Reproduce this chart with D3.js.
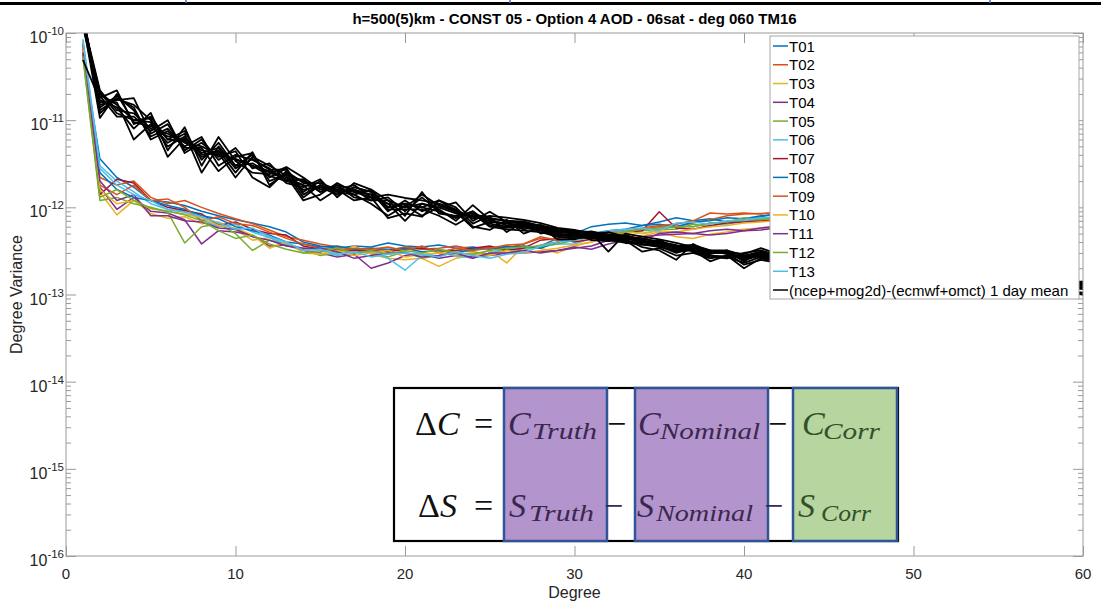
<!DOCTYPE html>
<html>
<head>
<meta charset="utf-8">
<script src="https://cdn.jsdelivr.net/npm/d3@7"></script>
<style>
  body { margin: 0; background: #fff; }
  svg { display: block; font-family: "Liberation Sans", Arial, Helvetica, sans-serif; }
</style>
</head>
<body>
<svg id="chart" width="1101" height="606"></svg>
<script>
// values are in units of 1e-13 (so 10 = 1e-12, 100 = 1e-11); index 0 = degree 1
const UNIT = 1e-13;

const seriesNames = ['T01', 'T02', 'T03', 'T04', 'T05', 'T06', 'T07', 'T08', 'T09', 'T10', 'T11', 'T12', 'T13'];
const seriesColors = ['#0072BD', '#D95319', '#EDB120', '#7E2F8E', '#77AC30', '#4DBEEE', '#A2142F',
                      '#0072BD', '#D95319', '#EDB120', '#7E2F8E', '#77AC30', '#4DBEEE'];
const meanName = '(ncep+mog2d)-(ecmwf+omct) 1 day mean';

const T01 = [600, 36, 22, 17, 12, 11.5, 10.5, 9, 8, 7.2, 6.6, 6, 5.2, 4, 3.6, 3.4, 3.6, 3.5, 3.9, 3.6, 3.5, 3.7, 3.4, 3.5, 3.3, 3.6, 3.4, 3.6, 4.4, 5.0, 6.0, 6.4, 6.6, 6.2, 6.8, 7.6, 7.0, 7.4, 6.8, 7.2, 7.8, 8.6, 9.0];
const T02 = [750, 22, 18, 20, 13, 11, 12, 10, 8.5, 7.4, 6.5, 5.5, 4.6, 4.2, 3.8, 3.5, 3.3, 3.4, 3.2, 3.5, 3.3, 3.4, 3.6, 3.3, 3.5, 3.4, 3.8, 4.4, 4.2, 4.4, 4.7, 5.1, 5.4, 5.6, 6.0, 5.9, 6.6, 7.2, 8.0, 8.4, 8.5, 8.6, 8.8];
const T03 = [680, 15, 8.2, 12, 8.5, 7.5, 7.8, 6.5, 6.8, 5.5, 4.2, 4.5, 3.6, 3.4, 3.2, 3.0, 3.6, 2.9, 2.6, 2.5, 2.6, 2.1, 2.6, 2.8, 3.2, 2.3, 3.6, 3.4, 3.0, 3.6, 4.0, 4.6, 4.8, 4.7, 5.2, 4.6, 4.4, 4.9, 5.2, 5.6, 5.8, 6.2, 6.4];
const T04 = [560, 17, 9.5, 13, 9, 8.6, 7.2, 3.8, 5.4, 5.2, 4.8, 3.6, 3.7, 3.2, 3.0, 2.7, 2.9, 2.0, 2.3, 2.8, 2.9, 2.6, 2.8, 2.7, 2.8, 3.0, 3.0, 3.1, 3.2, 3.5, 3.3, 3.8, 4.2, 4.6, 4.8, 4.9, 5.0, 4.8, 5.0, 5.4, 5.5, 5.8, 6.0];
const T05 = [520, 12, 13, 11, 10, 8.8, 3.9, 6, 6.5, 5.0, 3.2, 4.2, 3.8, 3.3, 2.8, 3.0, 3.2, 3.0, 2.7, 3.1, 2.6, 2.8, 3.2, 3.1, 2.9, 3.3, 3.2, 3.7, 4.0, 4.2, 4.5, 4.8, 5.1, 5.4, 5.6, 5.6, 6.4, 6.0, 6.8, 7.0, 7.3, 7.6, 7.8];
const T06 = [850, 30, 20, 15, 11, 9.5, 9, 7.2, 6.0, 6.4, 5.2, 4.5, 3.8, 3.4, 3.2, 2.8, 3.0, 3.1, 2.6, 1.9, 2.8, 3.0, 2.8, 2.6, 3.0, 3.4, 3.4, 3.5, 3.8, 3.8, 4.4, 5.0, 5.4, 5.0, 5.5, 6.2, 6.0, 6.6, 6.4, 7.0, 7.4, 7.5, 7.8];
const T07 = [650, 14, 21, 19, 12, 10, 9.2, 8.4, 6.2, 6.8, 5.6, 5.0, 4.8, 3.6, 3.3, 3.3, 3.2, 3.2, 3.1, 3.3, 3.4, 3.2, 3.2, 3.4, 3.6, 3.2, 3.4, 4.2, 4.4, 4.0, 4.3, 4.8, 5.2, 5.4, 8.9, 5.8, 5.6, 6.2, 6.6, 6.8, 7.0, 7.2, 7.4];
const T08 = [720, 25, 16, 13, 12, 10.5, 9.5, 8, 7.4, 6.0, 5.4, 4.8, 4.0, 3.8, 3.5, 3.6, 3.3, 3.4, 3.3, 3.4, 3.1, 3.2, 3.0, 3.3, 3.4, 3.5, 3.6, 3.4, 4.0, 4.6, 5.0, 5.4, 5.6, 6.2, 6.4, 6.0, 6.8, 7.0, 7.6, 7.4, 8.0, 8.2, 8.6];
const T09 = [780, 18, 14, 18, 12, 12.5, 10, 7, 7.8, 6.5, 6.2, 5.2, 4.4, 3.8, 3.4, 3.2, 3.4, 3.3, 3.5, 3.2, 3.6, 3.0, 3.4, 3.2, 3.4, 3.7, 3.8, 4.6, 4.2, 4.8, 5.0, 5.2, 5.0, 5.8, 6.2, 6.4, 7.0, 8.6, 8.4, 8.6, 8.4, 8.8, 9.0];
const T10 = [640, 16, 11, 12, 9.6, 9, 8.4, 7.6, 6.2, 5.8, 4.8, 3.4, 4.0, 3.0, 2.9, 3.2, 2.8, 3.0, 3.2, 2.7, 2.9, 3.0, 2.9, 3.0, 2.8, 3.2, 3.0, 3.2, 3.4, 3.7, 4.0, 4.8, 5.2, 5.0, 5.4, 5.2, 5.6, 6.0, 6.2, 6.6, 6.8, 7.0, 7.2];
const T11 = [600, 20, 12, 14, 8, 8, 7, 6.8, 5.8, 5.6, 4.6, 4.2, 3.6, 3.4, 3.4, 3.1, 2.6, 2.8, 3.0, 3.0, 2.7, 2.8, 3.0, 2.6, 3.0, 3.0, 3.2, 3.0, 3.2, 3.4, 3.6, 4.2, 4.4, 4.2, 5.0, 5.2, 5.0, 5.4, 5.6, 5.4, 5.8, 6.0, 6.2];
const T12 = [540, 13, 16, 12, 9.8, 9, 8.2, 7.0, 5.4, 4.4, 4.8, 3.8, 3.3, 3.0, 3.1, 3.4, 3.0, 3.2, 2.9, 3.2, 3.0, 3.3, 3.0, 2.9, 3.2, 3.4, 3.5, 3.6, 3.8, 4.2, 4.8, 5.0, 5.2, 5.6, 5.8, 6.0, 6.0, 6.6, 6.8, 7.6, 7.2, 7.8, 8.0];
const T13 = [820, 28, 18, 14, 12, 9.4, 8.8, 7.8, 6.6, 5.6, 5.8, 4.6, 4.0, 3.2, 3.3, 2.9, 3.1, 2.7, 2.9, 3.0, 2.9, 2.7, 3.1, 2.8, 2.6, 2.9, 3.0, 3.6, 4.0, 4.2, 4.6, 5.4, 5.6, 5.8, 5.4, 6.6, 6.8, 6.4, 7.0, 7.2, 7.6, 7.8, 8.2];
const tSeries = [T01, T02, T03, T04, T05, T06, T07, T08, T09, T10, T11, T12, T13];

// 1 day mean curves: one row per degree (1..60), one column per curve
const meanRows = [
  [1400, 1300, 1600, 1250, 1500, 490, 1350, 1450, 1200, 1700, 1300, 1550],
  [220, 180, 150, 200, 120, 170, 106, 190, 160, 140, 210, 130],
  [130, 220, 170, 150, 180, 140, 200, 110, 160, 190, 120, 175],
  [120, 90, 179, 100, 140, 80, 95, 110, 60, 130, 100, 150],
  [80, 110, 70, 95, 60, 121, 85, 75, 90, 65, 105, 100],
  [70, 60, 90, 50, 75, 45, 65, 100, 55, 80, 38, 60],
  [55, 75, 45, 65, 50, 83, 60, 42, 70, 48, 62, 58],
  [50, 35, 60, 40, 64, 30, 45, 55, 25, 48, 42, 38],
  [40, 55, 35, 45, 30, 64, 42, 38, 50, 26, 48, 44],
  [36, 30, 48, 25, 40, 34, 22, 44, 30, 38, 28, 35],
  [30, 40, 28, 43, 35, 25, 38, 22, 32, 42, 36, 30],
  [26, 22, 32, 18, 28, 24, 30, 17, 25, 20, 27, 23],
  [22, 28, 20, 25, 19, 29, 23, 26, 21, 24, 27, 20],
  [18, 15, 21, 13, 17, 22, 12, 19, 16, 20, 14, 18],
  [17, 20, 15, 18, 21, 16, 14, 19, 17, 15, 18, 12],
  [16, 14, 18, 15, 13, 17, 19, 16, 14, 18, 15, 16],
  [15, 17, 13, 16, 19, 14, 15, 12, 17, 16, 14, 18],
  [13, 15, 12, 14, 16, 11, 14, 13, 15, 12, 16, 13],
  [11, 9, 13, 10, 12, 8, 11, 14, 9.5, 12, 10, 7.5],
  [10, 12, 9, 11, 8, 10.5, 7, 12.8, 9.5, 10, 11, 8.5],
  [11, 9, 13, 10, 15, 8, 11, 12, 9.5, 14, 10, 7.8],
  [10, 11, 9, 12, 8.5, 10, 9.5, 11, 8, 10.5, 9, 12],
  [8.5, 9, 7.5, 10, 8, 11.4, 7, 9.5, 6.3, 8.8, 7.8, 9.2],
  [8, 7.5, 9, 6.5, 8.5, 7, 10.6, 6, 8.2, 5.8, 9, 7.8],
  [7, 7.5, 6.5, 8, 6, 8.9, 7.2, 5.5, 7.8, 6.8, 6.2, 7.4],
  [6.5, 7, 6, 7.6, 5.6, 6.8, 6.2, 7.2, 5.2, 6.6, 5.8, 7],
  [6.2, 6.6, 5.8, 7.2, 5.4, 6.4, 6, 5, 6.8, 5.6, 6.3, 6.9],
  [5.8, 6.2, 5.4, 6.6, 5.2, 6, 5.6, 5.9, 5, 6.3, 5.5, 6.1],
  [5.2, 5.6, 4.8, 5.8, 4.6, 5.4, 5, 4.3, 5.5, 4.9, 5.3, 5.7],
  [5, 5.4, 4.6, 5.5, 4.4, 5.1, 4.8, 4.3, 5.2, 4.7, 5, 5.3],
  [4.8, 5.2, 4.4, 5, 4.6, 5.3, 4.5, 4.9, 4.2, 5.1, 4.7, 4.9],
  [4.5, 4.9, 4.2, 3.1, 4.6, 4.8, 4.3, 5.2, 4.1, 4.7, 4.4, 4.6],
  [4.4, 4.7, 4, 5, 4.2, 4.5, 3.9, 4.6, 4.3, 4.8, 4.1, 4.4],
  [4, 4.3, 3.7, 4.6, 3.1, 4.1, 3.8, 4.4, 3.5, 4.2, 3.9, 4],
  [3.9, 4.1, 3.6, 4.3, 3.4, 3.8, 3.5, 4, 3.2, 3.7, 4.2, 3.6],
  [3.4, 3.6, 3.1, 3.9, 2.8, 3.5, 3.2, 3.7, 2.5, 3.3, 3.4, 3.0],
  [3.4, 3.7, 3.2, 3.5, 3, 3.6, 3.3, 3.1, 3.8, 3.2, 3.5, 3.4],
  [3, 3.2, 2.8, 3.1, 2.6, 3.2, 2.9, 2.7, 3, 2.4, 3.1, 2.8],
  [3, 3.2, 2.7, 3.1, 2.8, 2.9, 3.2, 2.6, 3, 2.8, 3.1, 2.7],
  [2.6, 2.8, 2.3, 2.9, 2.0, 2.7, 2.5, 3.0, 2.2, 2.6, 2.4, 2.8],
  [2.9, 3.1, 2.7, 3.4, 2.6, 3, 2.8, 3.2, 2.5, 2.9, 3.1, 2.7],
  [2.6, 2.8, 2.5, 2.9, 2.4, 2.7, 2.6, 2.8, 2.3, 2.7, 2.5, 2.6],
  [2.5, 2.7, 2.4, 2.8, 2.3, 2.6, 2.5, 2.7, 2.2, 2.6, 2.4, 2.5],
  [2.4, 2.6, 2.3, 2.7, 2.2, 2.5, 2.4, 2.6, 2.1, 2.5, 2.3, 2.4],
  [2.3, 2.6, 2.2, 2.5, 2.1, 2.4, 2.3, 2.5, 2.0, 2.4, 2.2, 2.3],
  [2.3, 2.5, 2.1, 2.5, 2.0, 2.3, 2.2, 2.4, 2.0, 2.3, 2.2, 2.2],
  [2.2, 2.4, 2.0, 2.4, 1.9, 2.2, 2.1, 2.3, 1.9, 2.2, 2.1, 2.1],
  [2.1, 2.3, 2.0, 2.3, 1.8, 2.2, 2.0, 2.2, 1.8, 2.1, 2.0, 2.1],
  [2.0, 2.2, 1.9, 2.2, 1.8, 2.1, 1.9, 2.1, 1.7, 2.0, 1.9, 2.0],
  [2.0, 2.1, 1.8, 2.1, 1.7, 2.0, 1.9, 2.0, 1.7, 1.9, 1.8, 1.9],
  [1.9, 2.0, 1.8, 2.0, 1.6, 1.9, 1.8, 1.9, 1.6, 1.9, 1.7, 1.8],
  [1.8, 1.9, 1.7, 1.9, 1.6, 1.8, 1.7, 1.8, 1.5, 1.8, 1.7, 1.8],
  [1.7, 1.9, 1.6, 1.8, 1.5, 1.7, 1.6, 1.8, 1.5, 1.7, 1.6, 1.7],
  [1.7, 1.8, 1.6, 1.8, 1.4, 1.7, 1.6, 1.7, 1.4, 1.6, 1.5, 1.6],
  [1.6, 1.7, 1.5, 1.7, 1.4, 1.6, 1.5, 1.6, 1.3, 1.6, 1.5, 1.6],
  [1.5, 1.6, 1.4, 1.6, 1.3, 1.5, 1.4, 1.6, 1.3, 1.5, 1.4, 1.5],
  [1.5, 1.6, 1.4, 1.5, 1.2, 1.5, 1.4, 1.5, 1.2, 1.4, 1.3, 1.4],
  [1.4, 1.5, 1.3, 1.5, 1.2, 1.4, 1.3, 1.4, 1.2, 1.4, 1.3, 1.4],
  [1.4, 1.4, 1.3, 1.4, 1.1, 1.3, 1.2, 1.4, 1.1, 1.3, 1.2, 1.3],
  [1.3, 1.4, 1.2, 1.35, 1.0, 1.3, 1.2, 1.3, 1.05, 1.25, 1.15, 1.3]
];

const xTicks = [0, 10, 20, 30, 40, 50, 60];
const yDecades = [-16, -15, -14, -13, -12, -11, -10];

const svg = d3.select('#chart');
const plot = {left: 66, right: 1083, top: 33, bottom: 556};
const axisGrey = '#9a9a9a';
const textDark = '#262626';

const x = d3.scaleLinear().domain([0, 60]).range([plot.left, plot.right]);
const y = d3.scaleLog().domain([1e-16, 1e-10]).range([plot.bottom, plot.top]);

// strip left over from the slide above
svg.append('rect').attr('x', 0).attr('y', 2).attr('width', 1101).attr('height', 3).attr('fill', '#000');
[186, 510, 990].forEach(px => {
    svg.append('line').attr('x1', px).attr('x2', px).attr('y1', 0).attr('y2', 3)
        .attr('stroke', '#4472C4').attr('stroke-width', 1.5);
});

svg.append('text')
    .attr('x', (plot.left + plot.right) / 2).attr('y', 24)
    .attr('text-anchor', 'middle')
    .attr('font-size', 15).attr('font-weight', 'bold').attr('fill', '#000')
    .text('h=500(5)km - CONST 05 - Option 4 AOD - 06sat - deg 060 TM16');

svg.append('clipPath').attr('id', 'plotClip')
    .append('rect')
    .attr('x', plot.left).attr('y', plot.top)
    .attr('width', plot.right - plot.left).attr('height', plot.bottom - plot.top);

// axes: ticks point inwards, no domain paths (box drawn separately)
let decadeVals = yDecades.map(k => Math.pow(10, k));
let minorVals = y.ticks().filter(v => !decadeVals.some(d => Math.abs(v / d - 1) < 1e-6));

function styleAxis(g) {
    g.select('.domain').remove();
    g.selectAll('.tick line').attr('stroke', axisGrey);
}

svg.append('g').attr('transform', `translate(${plot.left},0)`)
    .call(d3.axisLeft(y).tickValues(decadeVals).tickSize(-10).tickFormat('')).call(styleAxis);
svg.append('g').attr('transform', `translate(${plot.left},0)`)
    .call(d3.axisLeft(y).tickValues(minorVals).tickSize(-5).tickFormat('')).call(styleAxis);
svg.append('g').attr('transform', `translate(${plot.right},0)`)
    .call(d3.axisRight(y).tickValues(decadeVals).tickSize(-10).tickFormat('')).call(styleAxis);
svg.append('g').attr('transform', `translate(${plot.right},0)`)
    .call(d3.axisRight(y).tickValues(minorVals).tickSize(-5).tickFormat('')).call(styleAxis);
svg.append('g').attr('transform', `translate(0,${plot.bottom})`)
    .call(d3.axisBottom(x).tickValues(xTicks).tickSize(-10).tickFormat('')).call(styleAxis);
svg.append('g').attr('transform', `translate(0,${plot.top})`)
    .call(d3.axisTop(x).tickValues(xTicks).tickSize(-10).tickFormat('')).call(styleAxis);

// x tick labels
svg.append('g').selectAll('text').data(xTicks).join('text')
    .attr('x', d => x(d)).attr('y', 579)
    .attr('text-anchor', 'middle').attr('font-size', 15).attr('fill', textDark)
    .text(d => d);

// y tick labels 10^k
let yLab = svg.append('g').selectAll('text').data(yDecades).join('text')
    .attr('x', 64).attr('y', d => y(Math.pow(10, d)) + 10)
    .attr('text-anchor', 'end').attr('fill', textDark);
yLab.append('tspan').attr('font-size', 16).text('10');
yLab.append('tspan').attr('font-size', 11.5).attr('dy', -8).text(d => d);

svg.append('text')
    .attr('x', (plot.left + plot.right) / 2).attr('y', 598)
    .attr('text-anchor', 'middle').attr('font-size', 16).attr('fill', textDark)
    .text('Degree');
svg.append('text')
    .attr('transform', `translate(22,${(plot.top + plot.bottom) / 2}) rotate(-90)`)
    .attr('text-anchor', 'middle').attr('font-size', 16).attr('fill', textDark)
    .text('Degree Variance');

// data lines
let line = d3.line()
    .x((d, i) => x(i + 1))
    .y(d => y(d * UNIT));

let lines = svg.append('g').attr('clip-path', 'url(#plotClip)');

lines.selectAll('path.tseries').data(tSeries).join('path')
    .attr('class', 'tseries')
    .attr('d', line)
    .attr('fill', 'none')
    .attr('stroke', (d, i) => seriesColors[i])
    .attr('stroke-width', 1.5)
    .attr('stroke-linejoin', 'round');

let meanSeries = meanRows[0].map((_, j) => meanRows.map(r => r[j]));
lines.selectAll('path.mean').data(meanSeries).join('path')
    .attr('class', 'mean')
    .attr('d', line)
    .attr('fill', 'none')
    .attr('stroke', '#000')
    .attr('stroke-width', 1.8)
    .attr('stroke-linejoin', 'round');

// axes box
svg.append('rect')
    .attr('x', plot.left).attr('y', plot.top)
    .attr('width', plot.right - plot.left).attr('height', plot.bottom - plot.top)
    .attr('fill', 'none').attr('stroke', axisGrey).attr('stroke-width', 1);

// legend
let legendEntries = seriesNames.map((n, i) => ({name: n, color: seriesColors[i]}))
    .concat([{name: meanName, color: '#000'}]);
let legend = svg.append('g');
legend.append('rect')
    .attr('x', 770).attr('y', 36).attr('width', 309).attr('height', 263)
    .attr('fill', '#fff').attr('stroke', '#a8a8a8').attr('stroke-width', 1);
let rows = legend.selectAll('g.row').data(legendEntries).join('g')
    .attr('class', 'row')
    .attr('transform', (d, i) => `translate(0,${46 + i * 18.77})`);
rows.append('line')
    .attr('x1', 773).attr('x2', 788)
    .attr('stroke', d => d.color).attr('stroke-width', 1.5);
rows.append('text')
    .attr('x', 789).attr('y', 5.5)
    .attr('font-size', 15).attr('fill', '#000')
    .text(d => d.name);

// equation overlay
let eq = svg.append('g');
eq.append('rect')
    .attr('x', 394).attr('y', 388).attr('width', 504).attr('height', 153)
    .attr('fill', '#fff').attr('stroke', '#000').attr('stroke-width', 2.2);
let eqBoxes = [
    {x0: 504, x1: 607, fill: '#B394CD', ink: '#3a284e'},
    {x0: 635, x1: 768, fill: '#B394CD', ink: '#3a284e'},
    {x0: 793, x1: 897, fill: '#B6D59F', ink: '#34502a'}
];
eq.selectAll('rect.box').data(eqBoxes).join('rect')
    .attr('class', 'box')
    .attr('x', d => d.x0).attr('y', 388)
    .attr('width', d => d.x1 - d.x0).attr('height', 153)
    .attr('fill', d => d.fill).attr('stroke', '#2F5597').attr('stroke-width', 2.5);

let eqPieces = [
    {t: 'Δ', x: 415, row: 0}, {t: 'C', x: 437, row: 0, it: true}, {t: '=', x: 474, row: 0},
    {t: 'C', x: 508, row: 0, it: true}, {t: 'Truth', x: 532, w: 65, row: 0, sub: true},
    {t: '−', x: 607, row: 0}, {t: 'C', x: 638, row: 0, it: true}, {t: 'Nominal', x: 660, w: 100, row: 0, sub: true},
    {t: '−', x: 768, row: 0}, {t: 'C', x: 802, row: 0, it: true}, {t: 'Corr', x: 823, w: 57, row: 0, sub: true},
    {t: 'Δ', x: 418, row: 1}, {t: 'S', x: 440, row: 1, it: true}, {t: '=', x: 474, row: 1},
    {t: 'S', x: 509, row: 1, it: true}, {t: 'Truth', x: 529, w: 65, row: 1, sub: true},
    {t: '−', x: 604, row: 1}, {t: 'S', x: 637, row: 1, it: true}, {t: 'Nominal', x: 656, w: 97, row: 1, sub: true},
    {t: '−', x: 764, row: 1}, {t: 'S', x: 798, row: 1, it: true}, {t: 'Corr', x: 821, w: 50, row: 1, sub: true}
];
let baselines = [435, 517];
eq.selectAll('text').data(eqPieces).join('text')
    .attr('x', d => d.x)
    .attr('y', d => baselines[d.row] + (d.sub ? 4 : 0))
    .attr('font-family', '"Liberation Serif", "Times New Roman", serif')
    .attr('font-style', d => (d.it || d.sub) ? 'italic' : 'normal')
    .attr('font-size', d => d.sub ? 23 : 34)
    .attr('textLength', d => d.w || null)
    .attr('lengthAdjust', 'spacingAndGlyphs')
    .attr('fill', d => {
        let b = eqBoxes.find(bx => d.x >= bx.x0 && d.x < bx.x1);
        return b ? b.ink : '#111';
    })
    .text(d => d.t);
</script>
</body>
</html>
